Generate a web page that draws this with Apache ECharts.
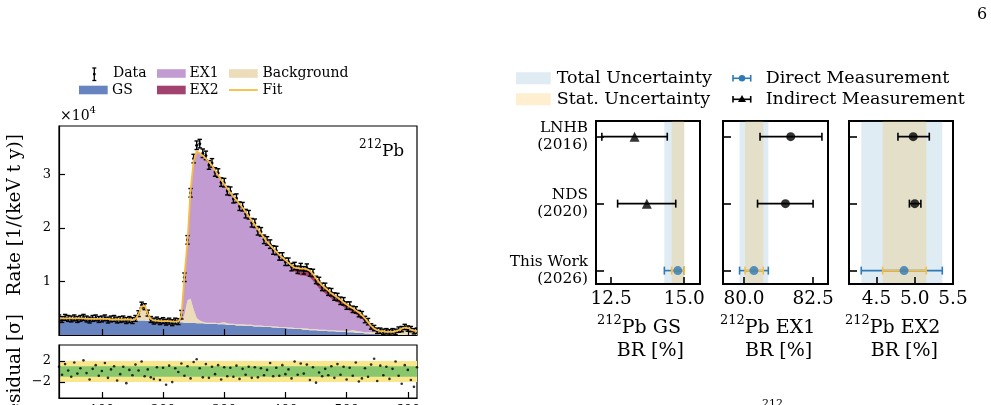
<!DOCTYPE html>
<html>
<head>
<meta charset="utf-8">
<script src="https://cdn.jsdelivr.net/npm/echarts@6.0.0/dist/echarts.min.js"></script>
<style>
  html, body { margin: 0; padding: 0; background: #fff; }
  #chart { width: 991px; height: 405px; }
</style>
</head>
<body>
<div id="chart"></div>
<script>
// ---- spectrum (rates in units of 1e4 / (keV t y)) ----
const energy = [
  30, 35, 40, 45, 50, 55, 60, 65, 70, 75,
  80, 85, 90, 95, 100, 105, 110, 115, 120, 125,
  130, 135, 140, 145, 150, 155, 160, 165, 170, 175,
  180, 185, 190, 195, 200, 205, 210, 215, 220, 225,
  230, 235, 240, 245, 250, 255, 260, 265, 270, 275,
  280, 285, 290, 295, 300, 305, 310, 315, 320, 325,
  330, 335, 340, 345, 350, 355, 360, 365, 370, 375,
  380, 385, 390, 395, 400, 405, 410, 415, 420, 425,
  430, 435, 440, 445, 450, 455, 460, 465, 470, 475,
  480, 485, 490, 495, 500, 505, 510, 515, 520, 525,
  530, 535, 540, 545, 550, 555, 560, 565, 570, 575,
  580, 585, 590, 595, 600, 605, 610, 615
];
const gsRate = [
  0.30, 0.30, 0.30, 0.30, 0.30, 0.30, 0.30, 0.30, 0.30, 0.29,
  0.29, 0.29, 0.29, 0.29, 0.29, 0.29, 0.29, 0.28, 0.28, 0.28,
  0.28, 0.28, 0.28, 0.28, 0.27, 0.27, 0.27, 0.27, 0.27, 0.26,
  0.26, 0.26, 0.26, 0.25, 0.25, 0.25, 0.25, 0.24, 0.24, 0.24,
  0.24, 0.23, 0.23, 0.23, 0.23, 0.22, 0.22, 0.22, 0.21, 0.21,
  0.21, 0.21, 0.20, 0.20, 0.20, 0.19, 0.19, 0.19, 0.18, 0.18,
  0.18, 0.17, 0.17, 0.17, 0.16, 0.16, 0.16, 0.15, 0.15, 0.15,
  0.14, 0.14, 0.13, 0.13, 0.13, 0.12, 0.12, 0.11, 0.11, 0.11,
  0.10, 0.10, 0.09, 0.09, 0.09, 0.08, 0.08, 0.08, 0.07, 0.07,
  0.07, 0.06, 0.06, 0.06, 0.05, 0.05, 0.05, 0.04, 0.04, 0.04,
  0.03, 0.03, 0.02, 0.02, 0.02, 0.01, 0.01, 0.005, 0, 0,
  0, 0, 0, 0, 0, 0, 0, 0
];
const bkgRate = [
  0.01, 0.01, 0.01, 0.01, 0.01, 0.01, 0.01, 0.01, 0.01, 0.01,
  0.01, 0.01, 0.01, 0.01, 0.01, 0.01, 0.01, 0.01, 0.01, 0.01,
  0.01, 0.01, 0.01, 0.01, 0.01, 0.03, 0.12, 0.26, 0.28, 0.14,
  0.04, 0.01, 0.01, 0.01, 0.01, 0.01, 0.01, 0.01, 0.01, 0.01,
  0.02, 0.15, 0.42, 0.45, 0.25, 0.10, 0.05, 0.03, 0.02, 0.02,
  0.02, 0.02, 0.02, 0.03, 0.04, 0.03, 0.02, 0.02, 0.02, 0.02,
  0.02, 0.02, 0.02, 0.02, 0.02, 0.02, 0.02, 0.02, 0.02, 0.02,
  0.02, 0.02, 0.02, 0.02, 0.02, 0.02, 0.02, 0.02, 0.02, 0.02,
  0.02, 0.02, 0.02, 0.02, 0.02, 0.02, 0.02, 0.02, 0.02, 0.02,
  0.02, 0.02, 0.02, 0.02, 0.02, 0.03, 0.04, 0.04, 0.03, 0.02,
  0.02, 0.02, 0.03, 0.03, 0.04, 0.04, 0.05, 0.05, 0.06, 0.06,
  0.07, 0.09, 0.12, 0.14, 0.13, 0.10, 0.08, 0.07
];
const ex1Rate = [
  0, 0, 0, 0, 0, 0, 0, 0, 0, 0,
  0, 0, 0, 0, 0, 0, 0, 0, 0, 0,
  0, 0, 0, 0, 0, 0, 0, 0, 0, 0,
  0, 0, 0, 0, 0, 0, 0, 0, 0, 0,
  0.09, 0.72, 1.10, 2.02, 2.77, 3.12, 3.13, 3.10, 3.07, 3.01,
  2.94, 2.85, 2.77, 2.67, 2.58, 2.52, 2.45, 2.38, 2.32, 2.25,
  2.18, 2.11, 2.03, 1.95, 1.88, 1.80, 1.72, 1.65, 1.57, 1.51,
  1.46, 1.40, 1.35, 1.30, 1.25, 1.21, 1.14, 1.05, 1.00, 0.98,
  0.99, 0.98, 0.96, 0.90, 0.83, 0.77, 0.72, 0.67, 0.64, 0.59,
  0.55, 0.53, 0.49, 0.44, 0.41, 0.37, 0.33, 0.30, 0.28, 0.24,
  0.20, 0.14, 0.09, 0.05, 0.02, 0.02, 0.01, 0.005, 0, 0,
  0, 0, 0, 0, 0, 0, 0, 0
];
const ex2Rate = [
  0, 0, 0, 0, 0, 0, 0, 0, 0, 0,
  0, 0, 0, 0, 0, 0, 0, 0, 0, 0,
  0, 0, 0, 0, 0, 0, 0, 0, 0, 0,
  0, 0, 0, 0, 0, 0, 0, 0, 0, 0,
  0, 0, 0, 0, 0, 0, 0, 0, 0, 0,
  0, 0, 0, 0, 0, 0, 0, 0, 0, 0,
  0, 0, 0, 0, 0, 0, 0, 0, 0, 0,
  0, 0, 0, 0, 0, 0, 0.02, 0.08, 0.12, 0.13,
  0.13, 0.13, 0.13, 0.13, 0.12, 0.12, 0.11, 0.11, 0.10, 0.10,
  0.10, 0.09, 0.09, 0.09, 0.09, 0.08, 0.08, 0.08, 0.07, 0.07,
  0.06, 0.05, 0.03, 0.02, 0.01, 0, 0, 0, 0, 0,
  0, 0, 0, 0, 0, 0, 0, 0
];
const fitRate = [
  0.31, 0.31, 0.31, 0.31, 0.31, 0.31, 0.31, 0.31, 0.31, 0.30,
  0.30, 0.30, 0.30, 0.30, 0.30, 0.30, 0.30, 0.29, 0.29, 0.29,
  0.29, 0.29, 0.29, 0.29, 0.28, 0.30, 0.39, 0.53, 0.55, 0.40,
  0.30, 0.27, 0.27, 0.26, 0.26, 0.26, 0.26, 0.25, 0.25, 0.25,
  0.35, 1.10, 1.75, 2.70, 3.25, 3.44, 3.40, 3.35, 3.30, 3.24,
  3.17, 3.08, 2.99, 2.90, 2.82, 2.74, 2.66, 2.59, 2.52, 2.45,
  2.38, 2.30, 2.22, 2.14, 2.06, 1.98, 1.90, 1.82, 1.74, 1.68,
  1.62, 1.56, 1.50, 1.45, 1.40, 1.35, 1.30, 1.26, 1.25, 1.24,
  1.24, 1.23, 1.20, 1.14, 1.06, 0.99, 0.93, 0.88, 0.83, 0.78,
  0.74, 0.70, 0.66, 0.61, 0.57, 0.53, 0.50, 0.46, 0.42, 0.37,
  0.31, 0.24, 0.17, 0.12, 0.09, 0.07, 0.07, 0.06, 0.06, 0.06,
  0.07, 0.09, 0.12, 0.14, 0.13, 0.10, 0.08, 0.07
];
const dataRate = [
  0.32, 0.29, 0.33, 0.31, 0.30, 0.32, 0.29, 0.31, 0.33, 0.30,
  0.28, 0.31, 0.32, 0.29, 0.30, 0.32, 0.28, 0.30, 0.31, 0.28,
  0.29, 0.30, 0.27, 0.29, 0.27, 0.31, 0.40, 0.56, 0.53, 0.41,
  0.29, 0.26, 0.28, 0.25, 0.27, 0.24, 0.26, 0.23, 0.26, 0.25,
  0.38, 1.08, 1.78, 2.66, 3.30, 3.55, 3.58, 3.40, 3.36, 3.18,
  3.22, 3.05, 3.03, 2.86, 2.85, 2.70, 2.69, 2.55, 2.56, 2.41,
  2.40, 2.27, 2.25, 2.10, 2.09, 1.95, 1.93, 1.79, 1.76, 1.70,
  1.59, 1.58, 1.47, 1.47, 1.37, 1.37, 1.27, 1.29, 1.22, 1.27,
  1.21, 1.26, 1.17, 1.16, 1.03, 1.01, 0.90, 0.90, 0.81, 0.80,
  0.72, 0.71, 0.64, 0.63, 0.55, 0.55, 0.48, 0.47, 0.40, 0.38,
  0.29, 0.25, 0.16, 0.13, 0.08, 0.08, 0.06, 0.07, 0.05, 0.07,
  0.06, 0.10, 0.11, 0.15, 0.12, 0.11, 0.07, 0.08
];
const dataErr = [
  0.055, 0.055, 0.055, 0.055, 0.055, 0.055, 0.055, 0.055, 0.055, 0.055,
  0.055, 0.055, 0.055, 0.055, 0.055, 0.055, 0.055, 0.055, 0.055, 0.055,
  0.055, 0.055, 0.055, 0.055, 0.055, 0.055, 0.055, 0.055, 0.055, 0.055,
  0.055, 0.055, 0.055, 0.055, 0.055, 0.055, 0.055, 0.055, 0.055, 0.055,
  0.08, 0.08, 0.08, 0.08, 0.08, 0.08, 0.08, 0.08, 0.08, 0.08,
  0.08, 0.08, 0.08, 0.08, 0.08, 0.08, 0.08, 0.08, 0.08, 0.08,
  0.08, 0.08, 0.08, 0.08, 0.08, 0.08, 0.08, 0.08, 0.08, 0.08,
  0.08, 0.08, 0.07, 0.07, 0.07, 0.07, 0.07, 0.07, 0.07, 0.07,
  0.07, 0.07, 0.07, 0.07, 0.07, 0.07, 0.07, 0.07, 0.07, 0.07,
  0.07, 0.07, 0.07, 0.07, 0.07, 0.07, 0.06, 0.06, 0.06, 0.06,
  0.06, 0.06, 0.05, 0.05, 0.05, 0.05, 0.05, 0.05, 0.05, 0.05,
  0.05, 0.05, 0.05, 0.05, 0.05, 0.05, 0.05, 0.05
];
const residual = [
  0.9, -0.6, 1.4, 0.2, -1.0, 1.7, -0.4, 0.6, 2.1, -0.3,
  -1.5, 0.5, 1.2, -0.8, 0.1, 1.6, -1.2, 0.4, 1.0, -1.7,
  -0.5, 0.9, -2.2, 0.3, -0.7, 1.3, 0.2, 1.9, -0.9, 0.4,
  -1.1, -1.4, 0.8, -1.6, 0.7, -2.5, 1.1, -2.0, 0.6, -0.1,
  1.5, -0.8, 1.0, -1.3, 1.8, 2.3, 0.6, -1.1, 1.4, -1.2,
  0.9, -0.5, 1.2, -1.5, 0.8, -0.9, 0.7, -1.0, 1.1, -1.4,
  0.5, -0.6, 0.9, -1.2, 0.8, -1.1, 0.6, -0.7, 0.3, 1.6,
  -0.9, 0.7, -0.8, 1.2, -0.5, 0.4, -1.3, 1.9, -0.6, 1.5,
  -0.4, 1.3, -1.6, 0.8, -2.1, -0.2, -0.9, 0.5, -0.7, 1.0,
  -1.2, 1.4, -0.6, 0.9, -1.5, 0.7, -0.8, 1.7, -1.9, -1.3,
  0.6, -1.0, 1.3, 2.4, -1.8, 1.1, -0.7, 0.9, -1.4, 0.5,
  1.9, -0.8, -2.3, 1.2, 0.3, -1.6, -2.9, 0.8
];
const spectrumTicks = [100, 200, 300, 400, 500, 600];
const rateTicks = [1, 2, 3];
const residualTicks = [-2, 2];
const sigmaBands = [2, 1];

// ---- branching ratios [%]: panels GS, EX1, EX2 ----
const brLabels = ['GS', 'EX1', 'EX2'];
const brRange = [[11.98, 15.54], [79.24, 83.04], [4.14, 5.5]];
const brTicks = [[12.5, 15.0], [80.0, 82.5], [4.5, 5.0, 5.5]];
const rowLabels = ['This Work\n(2026)', 'NDS\n(2020)', 'LNHB\n(2016)'];
const litRows = [2, 1]; // LNHB, NDS
const litValue = [[13.30, 13.72], [81.69, 81.50], [4.98, 5.00]];
const litLow = [[12.18, 12.72], [80.58, 80.49], [4.78, 4.93]];
const litHigh = [[14.42, 14.71], [82.82, 82.50], [5.19, 5.08]];
const thisValue = [14.78, 80.36, 4.86];
const totalLow = [14.32, 79.84, 4.30];
const totalHigh = [15.00, 80.88, 5.36];
const statLow = [14.57, 80.04, 4.58];
const statHigh = [15.00, 80.70, 5.15];

const FONT = 'DejaVu Serif';
const C = {
  gs: '#6784c1', ex1: '#c39bd3', ex2: '#a2436f', bkg: '#ecdcba', fit: '#f8bd3f',
  total: 'rgba(31,119,180,0.14)', stat: 'rgba(255,165,0,0.18)',
  direct: '#2f79b5', statBar: '#f6bd47', green: '#88c76c', yellow: '#fae68b'
};

const chart = echarts.init(document.getElementById('chart'));

// energy bins are categories; ticks only on round hundreds
const onHundreds = (i, v) => spectrumTicks.indexOf(Number(v)) >= 0;

// vertical error bar for the spectrum points: [binIndex, value, err]
function vErr(params, api) {
  const i = api.value(0), y = api.value(1), e = api.value(2);
  const p = api.coord([i, y]);
  const lo = api.coord([i, y - e]);
  const hi = api.coord([i, y + e]);
  const st = { stroke: '#000', lineWidth: 1.4 };
  return {
    type: 'group',
    children: [
      { type: 'line', shape: { x1: p[0], y1: lo[1], x2: p[0], y2: hi[1] }, style: st },
      { type: 'line', shape: { x1: p[0] - 2.2, y1: lo[1], x2: p[0] + 2.2, y2: lo[1] }, style: st },
      { type: 'line', shape: { x1: p[0] - 2.2, y1: hi[1], x2: p[0] + 2.2, y2: hi[1] }, style: st },
      { type: 'circle', shape: { cx: p[0], cy: p[1], r: 1.5 }, style: { fill: '#000' } }
    ]
  };
}

// horizontal error bar for the BR panels: [low, high, row]
function hErr(color) {
  return function (params, api) {
    const row = api.value(2);
    const a = api.coord([api.value(0), row]);
    const b = api.coord([api.value(1), row]);
    const st = { stroke: color, lineWidth: 1.6 };
    return {
      type: 'group',
      children: [
        { type: 'line', shape: { x1: a[0], y1: a[1], x2: b[0], y2: b[1] }, style: st },
        { type: 'line', shape: { x1: a[0], y1: a[1] - 4, x2: a[0], y2: a[1] + 4 }, style: st },
        { type: 'line', shape: { x1: b[0], y1: b[1] - 4, x2: b[0], y2: b[1] + 4 }, style: st }
      ]
    };
  };
}

const lbl = { fontFamily: FONT, color: '#000' };

const grids = [
  { left: 59, top: 126, width: 358, height: 209, borderWidth: 1.2 },
  { left: 59, top: 345, width: 358, height: 53, borderWidth: 1.2 },
  { left: 596, top: 121, width: 104, height: 163, borderWidth: 2 },
  { left: 723, top: 121, width: 105, height: 163, borderWidth: 2 },
  { left: 849, top: 121, width: 104, height: 163, borderWidth: 2 }
].map(g => Object.assign(g, { show: true, borderColor: '#000', containLabel: false, outerBoundsMode: 'none' }));

const xAxes = [0, 1].map(g => ({
  gridIndex: g, type: 'category', data: energy, boundaryGap: false, z: 10,
  axisLine: { onZero: false, lineStyle: { color: '#000', width: 1.2 } },
  axisTick: { inside: true, length: 6, interval: onHundreds, lineStyle: { color: '#000', width: 1.2 } },
  axisLabel: g === 0 ? { show: false }
    : Object.assign({ interval: onHundreds, margin: 6, fontSize: 13 }, lbl),
  splitLine: { show: false }
}));
const yAxes = [
  {
    gridIndex: 0, type: 'value', min: 0, max: 3.91, z: 10,
    axisLine: { show: true, onZero: false, lineStyle: { color: '#000', width: 1.2 } },
    axisTick: { show: true, inside: true, length: 6, customValues: rateTicks, lineStyle: { color: '#000', width: 1.2 } },
    axisLabel: Object.assign({ customValues: rateTicks, margin: 8, fontSize: 13 }, lbl),
    splitLine: { show: false }
  },
  {
    gridIndex: 1, type: 'value', min: -5, max: 5, z: 10,
    axisLine: { show: true, onZero: false, lineStyle: { color: '#000', width: 1.2 } },
    axisTick: { show: true, inside: true, length: 6, customValues: residualTicks, lineStyle: { color: '#000', width: 1.2 } },
    axisLabel: Object.assign({
      customValues: residualTicks, margin: 8, fontSize: 13,
      formatter: v => (v < 0 ? '\u2212' + Math.abs(v) : String(v))
    }, lbl),
    splitLine: { show: false }
  }
];

brLabels.forEach((name, p) => {
  xAxes.push({
    gridIndex: p + 2, type: 'value', min: brRange[p][0], max: brRange[p][1], z: 10,
    axisLine: { onZero: false, lineStyle: { color: '#000', width: 2 } },
    axisTick: { inside: true, length: 7, customValues: brTicks[p], lineStyle: { color: '#000', width: 1.6 } },
    axisLabel: Object.assign({ customValues: brTicks[p], margin: 6, fontSize: 18.5, formatter: v => v.toFixed(1) }, lbl),
    splitLine: { show: false }
  });
  yAxes.push({
    gridIndex: p + 2, type: 'value', min: -0.2, max: 2.234, z: 10,
    axisLine: { show: true, onZero: false, lineStyle: { color: '#000', width: 2 } },
    axisTick: { show: true, inside: true, length: 8, customValues: [0, 1, 2], lineStyle: { color: '#000', width: 1.6 } },
    axisLabel: p === 0
      ? Object.assign({ customValues: [0, 1, 2], margin: 8, fontSize: 15.3, lineHeight: 17, align: 'right',
          formatter: v => rowLabels[v] }, lbl)
      : { show: false },
    splitLine: { show: false }
  });
});

const series = [
  { name: 'GS', data: gsRate, color: C.gs },
  { name: 'Background', data: bkgRate, color: C.bkg },
  { name: 'EX1', data: ex1Rate, color: C.ex1 },
  { name: 'EX2', data: ex2Rate, color: C.ex2 }
].map(s => ({
  type: 'line', name: s.name, stack: 'spectrum', xAxisIndex: 0, yAxisIndex: 0,
  data: s.data, symbol: 'none', lineStyle: { width: 0 },
  areaStyle: { color: s.color, opacity: 1 }, itemStyle: { color: s.color }, z: 2
}));

series.push({
  type: 'custom', name: 'Data', xAxisIndex: 0, yAxisIndex: 0, z: 4,
  data: dataRate.map((v, i) => [i, v, dataErr[i]]),
  encode: { x: 0, y: 1 }, renderItem: vErr, clip: true
});
series.push({
  type: 'line', name: 'Fit', xAxisIndex: 0, yAxisIndex: 0, z: 5,
  data: fitRate, symbol: 'none', lineStyle: { color: C.fit, width: 1.8 }
});
series.push({
  type: 'scatter', name: 'Residual', xAxisIndex: 1, yAxisIndex: 1, z: 4,
  data: residual, symbolSize: 2.6, itemStyle: { color: '#000' },
  markArea: {
    silent: true,
    data: [
      [{ yAxis: -sigmaBands[0], itemStyle: { color: C.yellow } }, { yAxis: sigmaBands[0] }],
      [{ yAxis: -sigmaBands[1], itemStyle: { color: C.green } }, { yAxis: sigmaBands[1] }]
    ]
  }
});

brLabels.forEach((name, p) => {
  const xi = p + 2;
  series.push({
    type: 'line', name: 'Total Uncertainty', xAxisIndex: xi, yAxisIndex: xi, symbol: 'none',
    data: [[thisValue[p], 0]], lineStyle: { width: 0 }, z: 1,
    markArea: { silent: true, itemStyle: { color: C.total }, data: [[{ xAxis: totalLow[p] }, { xAxis: totalHigh[p] }]] }
  });
  series.push({
    type: 'line', name: 'Stat. Uncertainty', xAxisIndex: xi, yAxisIndex: xi, symbol: 'none',
    data: [[thisValue[p], 0]], lineStyle: { width: 0 }, z: 1,
    markArea: { silent: true, itemStyle: { color: C.stat }, data: [[{ xAxis: statLow[p] }, { xAxis: statHigh[p] }]] }
  });
  series.push({
    type: 'custom', name: 'Indirect Measurement', xAxisIndex: xi, yAxisIndex: xi, z: 3,
    data: litRows.map((r, k) => [litLow[p][k], litHigh[p][k], r]),
    encode: { x: [0, 1], y: 2 }, renderItem: hErr('#000')
  });
  series.push({
    type: 'scatter', name: 'Indirect Measurement', xAxisIndex: xi, yAxisIndex: xi, z: 4,
    data: litRows.map((r, k) => [litValue[p][k], r]),
    symbol: p === 0 ? 'triangle' : 'circle', symbolSize: p === 0 ? 10 : 9,
    itemStyle: { color: '#000' }
  });
  series.push({
    type: 'custom', name: 'Direct Measurement', xAxisIndex: xi, yAxisIndex: xi, z: 3,
    data: [[totalLow[p], totalHigh[p], 0]],
    encode: { x: [0, 1], y: 2 }, renderItem: hErr(C.direct)
  });
  series.push({
    type: 'custom', name: 'Direct Measurement stat', xAxisIndex: xi, yAxisIndex: xi, z: 3,
    data: [[statLow[p], statHigh[p], 0]],
    encode: { x: [0, 1], y: 2 }, renderItem: hErr(C.statBar)
  });
  series.push({
    type: 'scatter', name: 'Direct Measurement', xAxisIndex: xi, yAxisIndex: xi, z: 4,
    data: [[thisValue[p], 0]], symbol: 'circle', symbolSize: 9, itemStyle: { color: C.direct }
  });
});

// ---- texts and legends ----
function text(x, y, s, size, extra) {
  return {
    type: 'text', x: x, y: y, silent: true,
    style: Object.assign({
      text: s, fontSize: size, fontFamily: FONT, fill: '#000',
      align: 'left', textAlign: 'left', verticalAlign: 'middle', textVerticalAlign: 'middle'
    }, extra || {})
  };
}
function supText(x, y, sup, main, size, supSize) {
  return text(x, y, '{s|' + sup + '}{n|' + main + '}', size, {
    rich: {
      s: { fontSize: supSize, fontFamily: FONT, lineHeight: supSize, verticalAlign: 'top' },
      n: { fontSize: size, fontFamily: FONT, lineHeight: size + 9 }
    }
  });
}
function swatch(x, y, w, h, color) {
  return { type: 'rect', silent: true, shape: { x: x, y: y, width: w, height: h }, style: { fill: color } };
}
function seg(x1, y1, x2, y2, color, w) {
  return { type: 'line', silent: true, shape: { x1: x1, y1: y1, x2: x2, y2: y2 }, style: { stroke: color, lineWidth: w } };
}

const graphics = [
  // page number
  text(977, 15, '6', 16),
  // left legend
  seg(94.3, 68, 94.3, 80.5, '#000', 1.3), seg(92.3, 68, 96.3, 68, '#000', 1.3), seg(92.3, 80.5, 96.3, 80.5, '#000', 1.3),
  { type: 'circle', silent: true, shape: { cx: 94.3, cy: 74.2, r: 1.4 }, style: { fill: '#000' } },
  text(113, 73.5, 'Data', 14),
  swatch(79, 85.7, 28.7, 8.6, C.gs), text(112, 90, 'GS', 14),
  swatch(157, 69.2, 28.7, 8.6, C.ex1), text(189.5, 73.5, 'EX1', 14),
  swatch(157, 85.7, 28.7, 8.6, C.ex2), text(189.5, 90, 'EX2', 14),
  swatch(229, 69.2, 28.7, 8.6, C.bkg), text(262.5, 73.5, 'Background', 14),
  seg(229, 90, 257.7, 90, C.fit, 1.8), text(262.5, 90, 'Fit', 14),
  // multiplier and isotope tag
  text(60, 116, '{n|\u00d710}{s|4}', 14, {
    rich: { n: { fontSize: 14, fontFamily: FONT, lineHeight: 22 }, s: { fontSize: 10, fontFamily: FONT, lineHeight: 10, verticalAlign: 'top' } }
  }),
  supText(359, 152, '212', 'Pb', 17, 12),
  // axis titles of the spectrum
  Object.assign(text(15, 215, 'Rate [1/(keV t y)]', 18.5, { align: 'center', textAlign: 'center' }), { rotation: Math.PI / 2 }),
  Object.assign(text(15, 371, 'Residual [\u03c3]', 18.5, { align: 'center', textAlign: 'center' }), { rotation: Math.PI / 2 }),
  // right legend
  swatch(516, 72.3, 34.7, 12, C.total), text(556.7, 78.3, 'Total Uncertainty', 17.5),
  swatch(516, 93.3, 34.7, 12, C.stat), text(556.7, 99.3, 'Stat. Uncertainty', 17.5),
  seg(733, 78.3, 750.7, 78.3, C.direct, 1.6), seg(733, 75, 733, 81.6, C.direct, 1.6), seg(750.7, 75, 750.7, 81.6, C.direct, 1.6),
  { type: 'circle', silent: true, shape: { cx: 742, cy: 78.3, r: 3.2 }, style: { fill: C.direct } },
  text(765.7, 78.3, 'Direct Measurement', 17.5),
  seg(733, 99.3, 750.7, 99.3, '#000', 1.6), seg(733, 96, 733, 102.6, '#000', 1.6), seg(750.7, 96, 750.7, 102.6, '#000', 1.6),
  { type: 'polygon', silent: true, shape: { points: [[742, 95], [746, 102], [738, 102]] }, style: { fill: '#000' } },
  text(765.7, 99.3, 'Indirect Measurement', 17.5),
  // cut caption below
  text(762, 404, '212', 11)
];

// x titles of the BR panels
const titleStart = [[597, 616.7], [720, 745], [845, 870.7]];
brLabels.forEach((name, p) => {
  graphics.push(supText(titleStart[p][0], 328.5, '212', 'Pb ' + name, 19, 13));
  graphics.push(text(titleStart[p][1], 351, 'BR [%]', 19));
});

chart.setOption({
  animation: false,
  backgroundColor: '#fff',
  grid: grids,
  xAxis: xAxes,
  yAxis: yAxes,
  series: series,
  graphic: graphics
});
</script>
</body>
</html>
